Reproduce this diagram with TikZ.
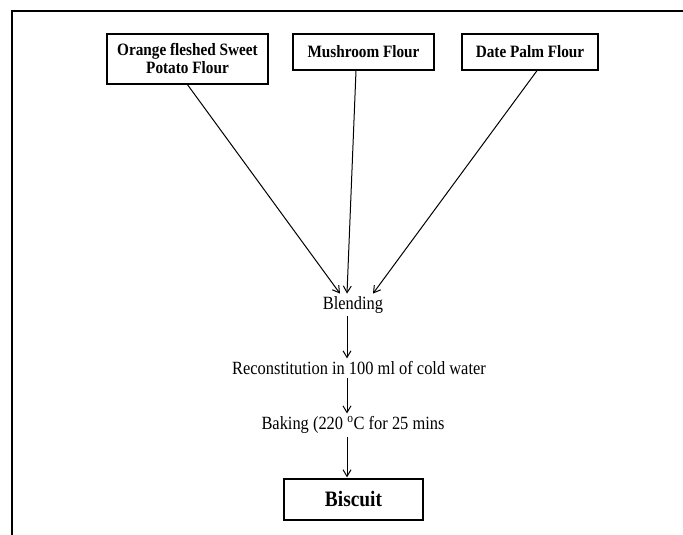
\documentclass[tikz,border=0pt]{standalone}
\usepackage{fontspec}
\setmainfont{Liberation Serif}[FakeStretch=0.88]
\usetikzlibrary{arrows.meta}
\usetikzlibrary{calc}
\usetikzlibrary{positioning}

\tikzset{
  flour/.style={draw, line width=1pt, align=center, font=\fontsize{13}{13.5}\selectfont\bfseries, inner sep=0pt},
  stage/.style={inner sep=2pt, font=\fontsize{14}{15}\selectfont},
  flow/.style={->, >={Straight Barb[length=5pt, width=6pt]}, line width=0.75pt}
}

\begin{document}
\begin{tikzpicture}[x=0.75pt, y=-0.75pt]
\useasboundingbox (0,0) rectangle (683,535);
%frame
\draw[line width=0.9pt] (12,535) -- (12,11) -- (683,11);

%flours
\node[flour, minimum width=161*0.75pt, minimum height=50*0.75pt] (ofsp) at (187.5,59) {Orange fleshed Sweet\\Potato Flour};
\node[flour, minimum width=141*0.75pt, minimum height=36*0.75pt] (mush) at (363.5,52) {Mushroom Flour};
\node[flour, minimum width=136*0.75pt, minimum height=36*0.75pt] (date) at (530,52) {Date Palm Flour};

%steps
\coordinate (spine) at (347,0);
\node[stage] (blend) at (353,305) {Blending};
\node[stage] (recon) at (359,368) {Reconstitution in 100 ml of cold water};
\node[stage] (bake) at (353,425) {Baking (220 \textsuperscript{o}C for 25 mins};
\node[flour, font=\fontsize{16.5}{18}\selectfont\bfseries, minimum width=139*0.75pt, minimum height=41*0.75pt] (bisc) at (353.5,499.5) {Biscuit};

\draw[flow] (ofsp.south) -- ($(blend.north)+(-13,0)$);
\draw[flow] ($(mush.south)+(-7.5,0)$) -- ($(blend.north)+(-6,0)$);
\draw[flow] ($(date.south)+(7,0)$) -- ($(blend.north)+(20,0)$);

\draw[flow] (blend.south -| spine) -- (recon.north -| spine);
\draw[flow] (recon.south -| spine) -- (bake.north -| spine);
\draw[flow] (bake.south -| spine) -- ($(bisc.north -| spine)+(0,-1)$);
\end{tikzpicture}
\end{document}
